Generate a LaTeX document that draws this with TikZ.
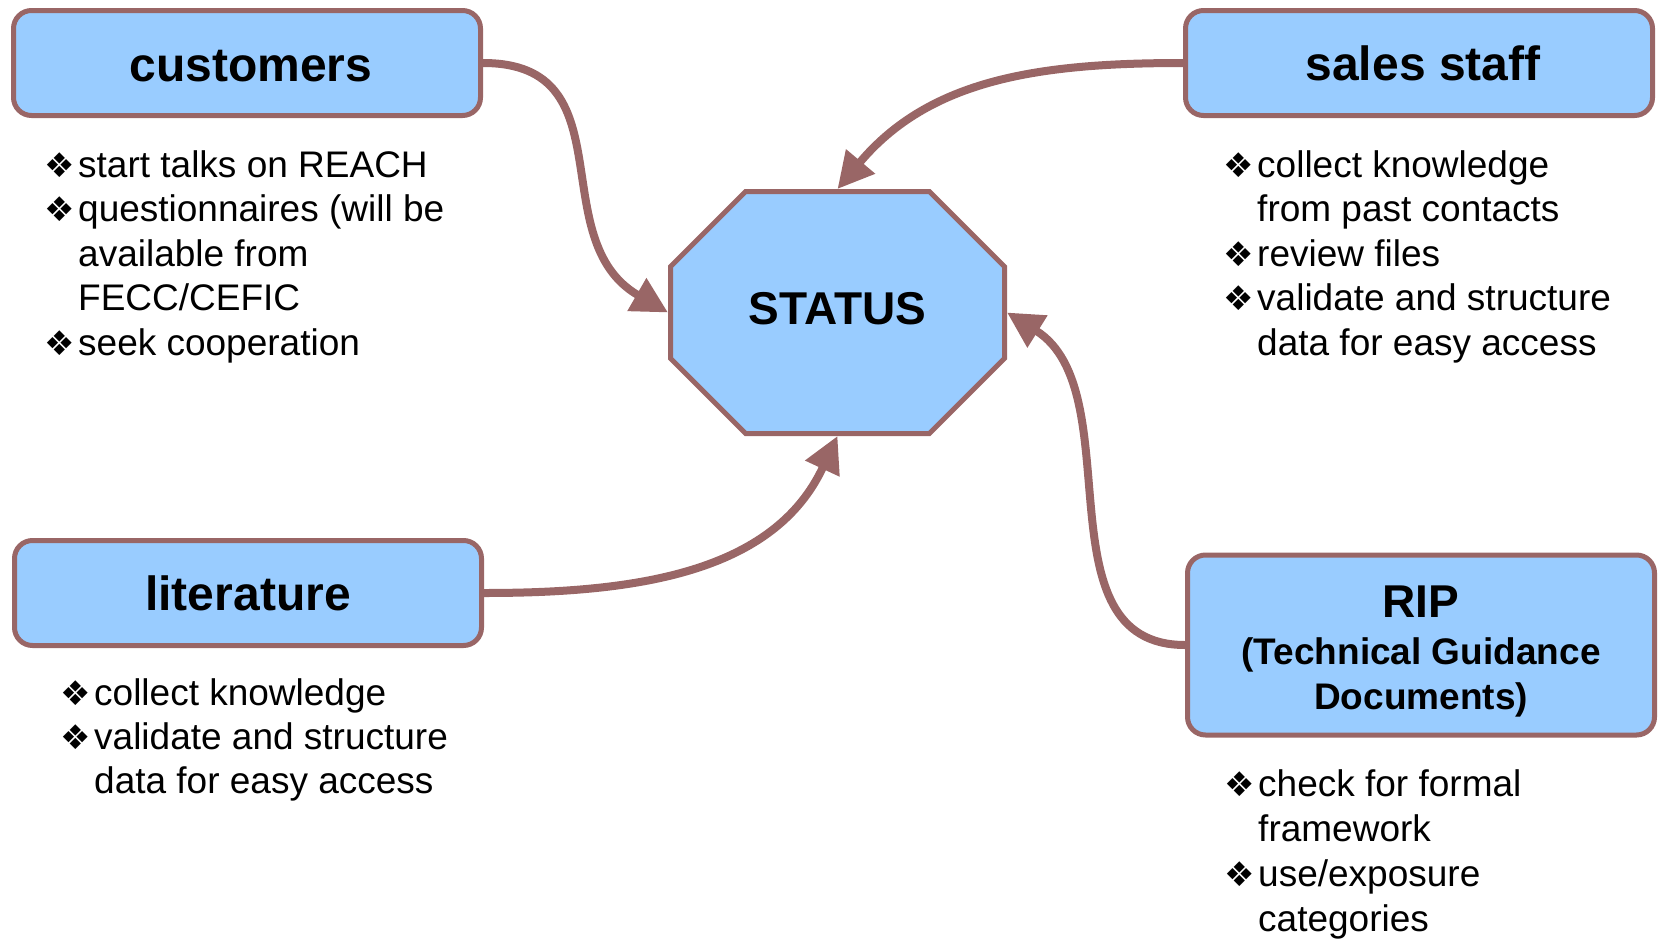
\documentclass[tikz,border=0pt]{standalone}
\usepackage{fontspec}
\setmainfont{Liberation Sans}
\newfontfamily\symfont{DejaVu Sans}
\usepackage{tikz}
\usetikzlibrary{arrows.meta,shapes.misc}
\definecolor{boxfill}{HTML}{99CCFF}
\definecolor{boxline}{HTML}{996666}
\newcommand{\bul}{\makebox[34pt][l]{\symfont\fontsize{34}{34}\selectfont ❖}}
\tikzstyle{box}=[rectangle,rounded corners=18pt,draw=boxline,fill=boxfill,line width=5pt,minimum width=467pt,minimum height=105pt,inner sep=0pt,font=\fontsize{48}{48}\selectfont\bfseries]
\tikzstyle{hub}=[chamfered rectangle,chamfered rectangle xsep=54pt,chamfered rectangle ysep=55pt,draw=boxline,fill=boxfill,line width=5pt,minimum width=334pt,minimum height=242pt,inner sep=0pt,font=\fontsize{46}{46}\selectfont\bfseries]
\tikzstyle{item}=[anchor=base west,inner sep=0pt,font=\fontsize{37}{45}\selectfont]
\tikzstyle{edge} = [draw,line width=8pt,boxline,-{Triangle[length=36pt,width=36pt]}]

\begin{document}
\begin{tikzpicture}[x=1pt,y=1pt]
    \useasboundingbox (0,0) rectangle (1660,-940);

    \node[box,text height=38pt] (cust) at (247,-63) {\hspace*{8pt}customers};
    \node[box] (sales) at (1419,-63) {\hspace*{8pt}sales staff};
    \node[box] (lit) at (248,-593) {literature};
    \node[box,minimum height=180pt] (rip) at (1421,-645) {};
    \node[inner sep=0pt,font=\fontsize{37}{45}\selectfont\bfseries,align=center] (riptext) at ([yshift=-7pt]rip.center)
        {{\fontsize{46}{46}\selectfont RIP}\\[2pt](Technical Guidance\\Documents)};
    \node[hub,text depth=8pt] (status) at (837.5,-312.5) {STATUS};

    % bullet lines under the boxes
    \foreach \n/\x/\y/\t in {c1/44/177/{\bul start talks on REACH}, c2/44/221.5/{\bul questionnaires (will be},
        c3/78/266/{available from}, c4/78/310.5/{FECC/CEFIC}, c5/44/355/{\bul seek cooperation}}
        \node[item] (\n) at (\x,-\y) {\t};
    \foreach \n/\x/\y/\t in {s1/1223/177/{\bul collect knowledge}, s2/1257/221.5/{from past contacts},
        s3/1223/266/{\bul review files}, s4/1223/310.5/{\bul validate and structure}, s5/1257/355/{data for easy access}}
        \node[item] (\n) at (\x,-\y) {\t};
    \foreach \n/\x/\y/\t in {l1/60/705/{\bul collect knowledge}, l2/60/749/{\bul validate and structure},
        l3/94/793/{data for easy access}}
        \node[item] (\n) at (\x,-\y) {\t};
    \foreach \n/\x/\y/\t in {r1/1224/796/{\bul check for formal}, r2/1258/841/{framework},
        r3/1224/886/{\bul use/exposure}, r4/1258/931/{categories}}
        \node[item] (\n) at (\x,-\y) {\t};

    % arrows into the hub
    \path[edge] (cust.east) to[out=0,in=150,looseness=1.2] (status.west);
    \path[edge] (sales.west) to[out=180,in=50] (status.north);
    \path[edge] (lit.east) to[out=0,in=-115] (status.south);
    \path[edge] (rip.west) to[out=180,in=-32] (status.east);
\end{tikzpicture}
\end{document}
